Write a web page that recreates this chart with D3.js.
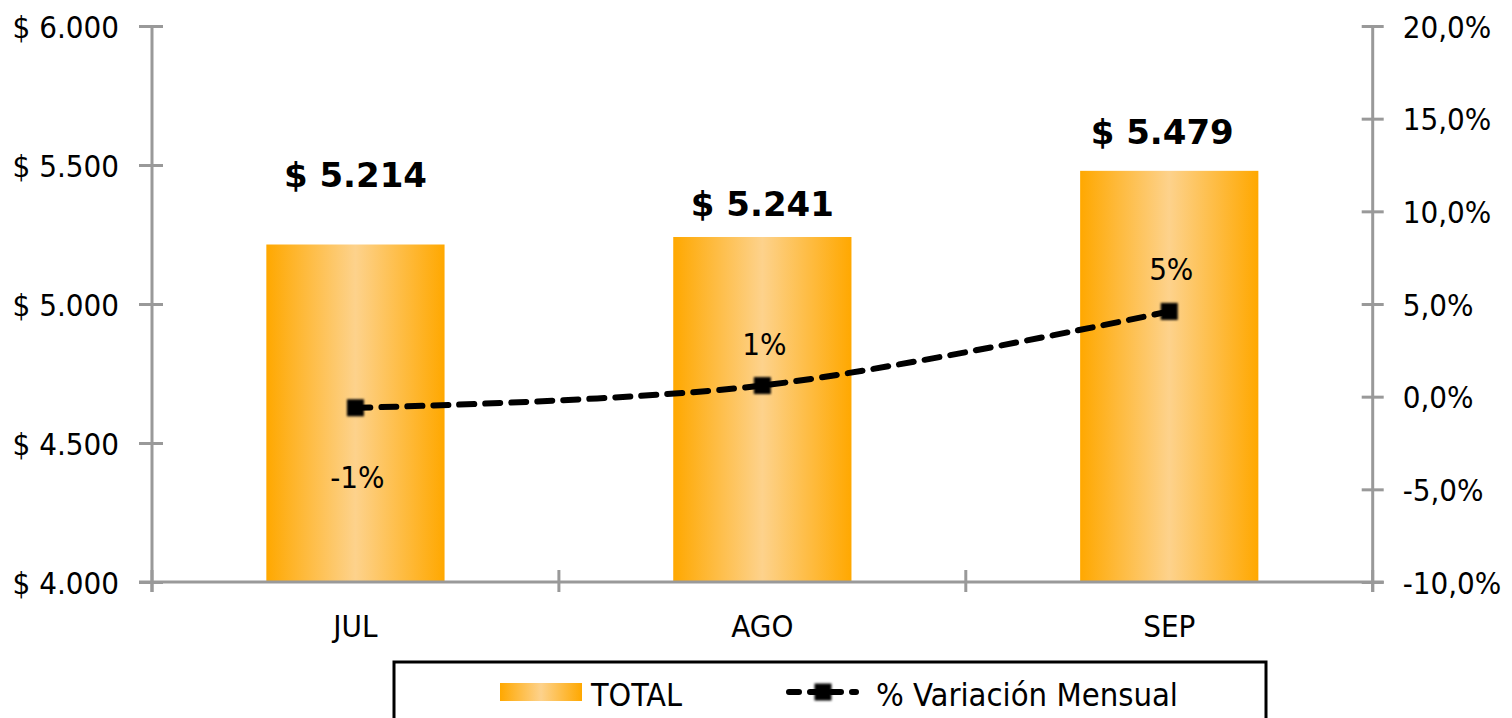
<!DOCTYPE html>
<html>
<head>
<meta charset="utf-8">
<script src="https://cdn.jsdelivr.net/npm/d3@7"></script>
<style>
  html, body { margin: 0; padding: 0; background: #ffffff; }
  svg { display: block; }
  text { font-family: "DejaVu Sans Condensed", "DejaVu Sans", sans-serif; fill: #000; }
</style>
</head>
<body>
<svg id="chart" width="1512" height="718"></svg>
<script>
// ---- data ----
const categories = ["JUL", "AGO", "SEP"];
const totals = [5214, 5241, 5479];
const variation = [-0.006, 0.006, 0.046];
const variationLabels = ["-1%", "1%", "5%"];
const totalLabels = ["$ 5.214", "$ 5.241", "$ 5.479"];
const leftTicks = [4000, 4500, 5000, 5500, 6000];
const leftTickLabels = ["$ 4.000", "$ 4.500", "$ 5.000", "$ 5.500", "$ 6.000"];
const rightTicks = [-0.10, -0.05, 0, 0.05, 0.10, 0.15, 0.20];
const rightTickLabels = ["-10,0%", "-5,0%", "0,0%", "5,0%", "10,0%", "15,0%", "20,0%"];
const seriesNames = ["TOTAL", "% Variación Mensual"];

// ---- layout ----
const svg = d3.select("#chart");
const X0 = 152, X1 = 1372.7, Y0 = 582, Y1 = 26;
const axisColor = "#999999";
const tickFont = "31px";

const x = d3.scaleBand().domain(categories).range([X0, X1]).paddingInner(0).paddingOuter(0);
const yL = d3.scaleLinear().domain([4000, 6000]).range([Y0, Y1]);
const yR = d3.scaleLinear().domain([-0.10, 0.20]).range([Y0, Y1]);

const defs = svg.append("defs");
const grad = defs.append("linearGradient").attr("id", "barGrad")
  .attr("x1", "0").attr("x2", "1").attr("y1", "0").attr("y2", "0");
grad.append("stop").attr("offset", "0%").attr("stop-color", "#FFA800");
grad.append("stop").attr("offset", "50%").attr("stop-color", "#FDD28C");
grad.append("stop").attr("offset", "100%").attr("stop-color", "#FFA800");
const blur = defs.append("filter").attr("id", "soft").attr("x", "-50%").attr("y", "-50%").attr("width", "200%").attr("height", "200%");
blur.append("feGaussianBlur").attr("stdDeviation", 1.1);

// bars
const barW = x.bandwidth() * 0.438;
svg.append("g").selectAll("rect").data(totals).join("rect")
  .attr("x", (d, i) => x(categories[i]) + x.bandwidth() / 2 - barW / 2)
  .attr("y", d => yL(d))
  .attr("width", barW)
  .attr("height", d => Y0 - yL(d))
  .attr("fill", "url(#barGrad)");

// left axis
const gL = svg.append("g").attr("transform", `translate(${X0},0)`)
  .call(d3.axisLeft(yL).tickValues(leftTicks).tickSize(11).tickFormat((d, i) => leftTickLabels[i]));
gL.select(".domain").remove();
gL.append("line").attr("x1", 0).attr("x2", 0).attr("y1", Y1).attr("y2", Y0 + 10)
  .attr("stroke", axisColor).attr("stroke-width", 3);
gL.selectAll(".tick line").attr("x1", 11).attr("x2", -13).attr("stroke", axisColor).attr("stroke-width", 3);
gL.selectAll(".tick text").attr("x", -33).attr("dy", "0.36em")
  .style("font-family", '"DejaVu Sans Condensed", sans-serif').style("font-size", tickFont).attr("fill", "#000");

// right axis
const gR = svg.append("g").attr("transform", `translate(${X1},0)`)
  .call(d3.axisRight(yR).tickValues(rightTicks).tickSize(11).tickFormat((d, i) => rightTickLabels[i]));
gR.select(".domain").remove();
gR.append("line").attr("x1", 0).attr("x2", 0).attr("y1", Y1).attr("y2", Y0 + 10)
  .attr("stroke", axisColor).attr("stroke-width", 3);
gR.selectAll(".tick line").attr("x1", -11).attr("x2", 11).attr("stroke", axisColor).attr("stroke-width", 3);
gR.selectAll(".tick text").attr("x", 30).attr("dy", "0.36em")
  .style("font-family", '"DejaVu Sans Condensed", sans-serif').style("font-size", tickFont).attr("fill", "#000");

// category axis
const gB = svg.append("g").attr("transform", `translate(0,${Y0})`)
  .call(d3.axisBottom(x).tickSize(0).tickPadding(30));
gB.select(".domain").remove();
gB.append("line").attr("x1", X0 - 13).attr("x2", X1 + 11).attr("y1", 0).attr("y2", 0)
  .attr("stroke", axisColor).attr("stroke-width", 3);
const bounds = categories.map(c => x(c)).concat([x.range()[1]]);
gB.selectAll(".bnd").data(bounds).join("line").attr("class", "bnd")
  .attr("x1", d => d).attr("x2", d => d).attr("y1", -12).attr("y2", 10)
  .attr("stroke", axisColor).attr("stroke-width", 3);
gB.selectAll(".tick text").attr("y", 55).attr("dy", 0)
  .style("font-family", '"DejaVu Sans Condensed", sans-serif').style("font-size", tickFont).attr("fill", "#000");

// line series
const cx = (d, i) => x(categories[i]) + x.bandwidth() / 2;
const line = d3.line().x(cx).y(d => yR(d)).curve(d3.curveCardinal);
svg.append("path").datum(variation)
  .attr("d", line)
  .attr("fill", "none").attr("stroke", "#000").attr("stroke-width", 6)
  .attr("stroke-dasharray", "15,11").attr("stroke-linecap", "round");
const mk = 17;
svg.append("g").selectAll("rect").data(variation).join("rect")
  .attr("x", (d, i) => cx(d, i) - mk / 2)
  .attr("y", d => yR(d) - mk / 2)
  .attr("width", mk).attr("height", mk)
  .attr("fill", "#000").attr("filter", "url(#soft)");

// variation labels
svg.append("g").selectAll("text").data(variation).join("text")
  .attr("x", (d, i) => cx(d, i) + 2)
  .attr("y", d => d < 0 ? yR(d) + 80 : yR(d) - 31)
  .attr("text-anchor", "middle")
  .style("font-size", tickFont)
  .text((d, i) => variationLabels[i]);

// total labels
const totalDy = [-58, -21, -27];
const totalDx = [0, 0, -7];
svg.append("g").selectAll("text").data(totals).join("text")
  .attr("x", (d, i) => x(categories[i]) + x.bandwidth() / 2 + totalDx[i])
  .attr("y", (d, i) => yL(d) + totalDy[i])
  .attr("text-anchor", "middle")
  .style("font-family", '"DejaVu Sans", sans-serif')
  .style("font-weight", "bold")
  .style("font-size", "34px")
  .text((d, i) => totalLabels[i]);

// legend
const lg = svg.append("g");
lg.append("rect").attr("x", 394).attr("y", 662).attr("width", 872).attr("height", 80)
  .attr("fill", "#fff").attr("stroke", "#000").attr("stroke-width", 3);
lg.append("rect").attr("x", 500).attr("y", 683).attr("width", 82).attr("height", 18)
  .attr("fill", "url(#barGrad)");
lg.append("text").attr("x", 591).attr("y", 706).style("font-size", "32px").text(seriesNames[0]);
lg.append("line").attr("x1", 789).attr("x2", 856).attr("y1", 692).attr("y2", 692)
  .attr("stroke", "#000").attr("stroke-width", 6).attr("stroke-dasharray", "10,11")
  .attr("stroke-linecap", "round");
lg.append("rect").attr("x", 823 - mk / 2).attr("y", 692 - mk / 2).attr("width", mk).attr("height", mk)
  .attr("fill", "#000").attr("filter", "url(#soft)");
lg.append("text").attr("x", 876).attr("y", 706).style("font-size", "32.5px").text(seriesNames[1]);
</script>
</body>
</html>
